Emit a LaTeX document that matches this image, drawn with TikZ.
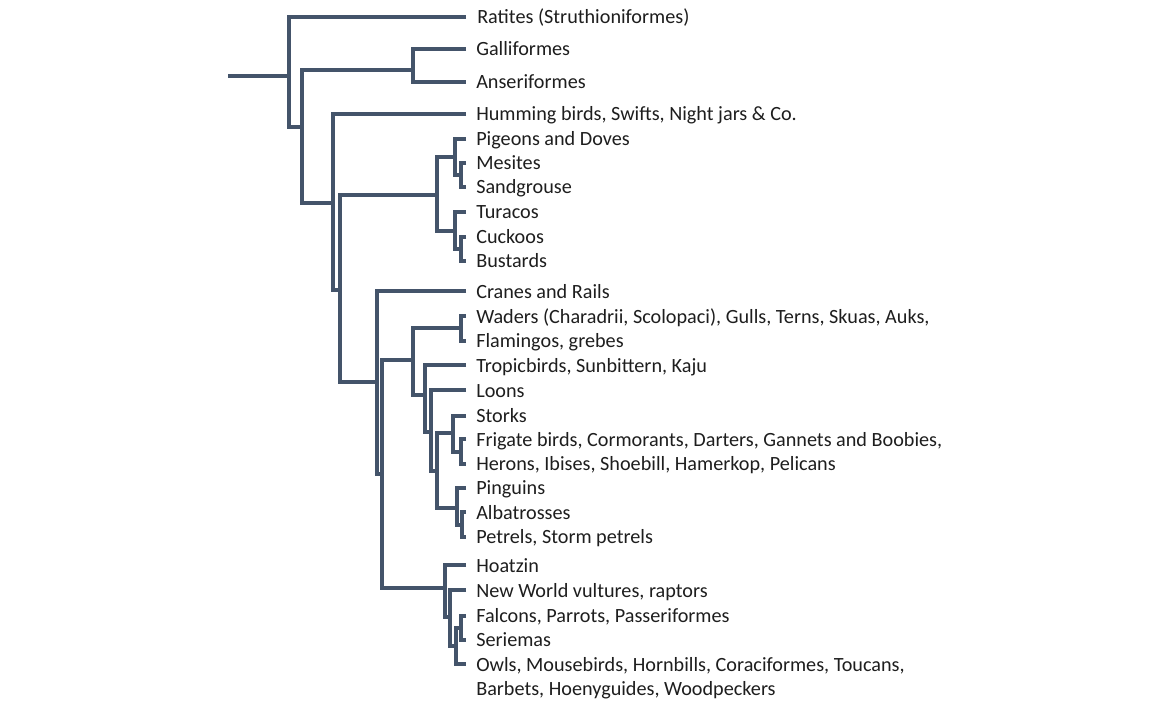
\documentclass[tikz,border=0pt]{standalone}
\usepackage{fontspec}
\setmainfont{Carlito}
\definecolor{branch}{HTML}{44546A}
\definecolor{txt}{HTML}{1E1E1E}
\tikzset{
  x=0.75pt, y=-0.75pt,
  leaf/.style={anchor=base west, inner sep=0pt, font=\fontsize{15.15}{18}\selectfont, text=txt},
  br/.style={draw=branch, line width=2.3pt, line join=miter}
}
\begin{document}
\begin{tikzpicture}
\fill[white] (0,0) rectangle (1167,701);
\useasboundingbox (0,0) rectangle (1167,701);

% leaf labels
\node[leaf] (Rat) at (477,23) {Ratites (Struthioniformes)};
\node[leaf] (Gal) at (476,55) {Galliformes};
\node[leaf] (Ans) at (476,88) {Anseriformes};
\node[leaf] (Hum) at (476,120) {Humming birds, Swifts, Night jars \& Co.};
\node[leaf] (Pig) at (476,145) {Pigeons and Doves};
\node[leaf] (Mes) at (476,169) {Mesites};
\node[leaf] (San) at (476,193) {Sandgrouse};
\node[leaf] (Tur) at (476,218) {Turacos};
\node[leaf] (Cuc) at (476,243) {Cuckoos};
\node[leaf] (Bus) at (476,267) {Bustards};
\node[leaf] (Cra) at (476,298) {Cranes and Rails};
\node[leaf] (Wad) at (476,323) {Waders (Charadrii, Scolopaci), Gulls, Terns, Skuas, Auks,};
\node[leaf] (Fla) at (476,347) {Flamingos, grebes};
\node[leaf] (Tro) at (476,372) {Tropicbirds, Sunbittern, Kaju};
\node[leaf] (Loo) at (476,397) {Loons};
\node[leaf] (Sto) at (476,422) {Storks};
\node[leaf] (Fri) at (476,446) {Frigate birds, Cormorants, Darters, Gannets and Boobies,};
\node[leaf] (Her) at (476,470) {Herons, Ibises, Shoebill, Hamerkop, Pelicans};
\node[leaf] (Pin) at (476,494) {Pinguins};
\node[leaf] (Alb) at (476,519) {Albatrosses};
\node[leaf] (Pet) at (476,543) {Petrels, Storm petrels};
\node[leaf] (Hoa) at (476,572) {Hoatzin};
\node[leaf] (New) at (476,597) {New World vultures, raptors};
\node[leaf] (Fal) at (476,622) {Falcons, Parrots, Passeriformes};
\node[leaf] (Ser) at (476,646) {Seriemas};
\node[leaf] (Owl) at (476,671) {Owls, Mousebirds, Hornbills, Coraciformes, Toucans,};
\node[leaf] (OwlB) at (476,695) {Barbets, Hoenyguides, Woodpeckers};

% leaf tips
\foreach \n/\y in {Rat/17,Gal/49,Ans/82,Hum/114,Pig/139,Mes/163,San/187,Tur/212,Cuc/237,Bus/261,
  Cra/291,Wad/316,Fla/341,Tro/365,Loo/390,Sto/416,Fri/439,Her/464,Pin/488,Alb/512,Pet/537,
  Hoa/565,New/590,Fal/616,Ser/640,Owl/664}
  \coordinate (t\n) at (466,\y);

% internal nodes (x of vertical, y where parent attaches)
\coordinate (root) at (228,76);
\coordinate (A) at (289,76);
\coordinate (B) at (302,127);
\coordinate (GA) at (413,70);
\coordinate (C) at (333,203);
\coordinate (D) at (340,290);
\coordinate (E) at (437,195);
\coordinate (F) at (377,382);
\coordinate (P1) at (455,157);
\coordinate (P2) at (461,175);
\coordinate (T1) at (455,231);
\coordinate (T2) at (461,249);
\coordinate (G) at (382,474);
\coordinate (H) at (413,360);
\coordinate (P) at (445,588);
\coordinate (W) at (461,328);
\coordinate (I) at (425,395);
\coordinate (J) at (431,432);
\coordinate (K) at (437,471);
\coordinate (L) at (453,433);
\coordinate (N) at (457,508);
\coordinate (M) at (461,452);
\coordinate (O) at (462,525);
\coordinate (Q) at (450,617);
\coordinate (R) at (456,646);
\coordinate (S) at (461,628);

% branches
\draw[br] (root) -- (A);
\draw[br] (tRat) -| (A) |- (B);
\draw[br] (GA) -| (B) |- (C);
\draw[br] (tGal) -| (GA) |- (tAns);
\draw[br] (tHum) -| (C) |- (D);
\draw[br] (E) -| (D) |- (F);
\draw[br] (P1) -| (E) |- (T1);
\draw[br] (tPig) -| (P1) |- (P2);
\draw[br] (tMes) -| (P2) |- (tSan);
\draw[br] (tTur) -| (T1) |- (T2);
\draw[br] (tCuc) -| (T2) |- (tBus);
\draw[br] (tCra) -| (F) |- (G);
\draw[br] (H) -| (G) |- (P);
\draw[br] (W) -| (H) |- (I);
\draw[br] (tWad) -| (W) |- (tFla);
\draw[br] (tTro) -| (I) |- (J);
\draw[br] (tLoo) -| (J) |- (K);
\draw[br] (L) -| (K) |- (N);
\draw[br] (tSto) -| (L) |- (M);
\draw[br] (tFri) -| (M) |- (tHer);
\draw[br] (tPin) -| (N) |- (O);
\draw[br] (tAlb) -| (O) |- (tPet);
\draw[br] (tHoa) -| (P) |- (Q);
\draw[br] (tNew) -| (Q) |- (R);
\draw[br] (S) -| (R) |- (tOwl);
\draw[br] (tFal) -| (S) |- (tSer);
\end{tikzpicture}
\end{document}
